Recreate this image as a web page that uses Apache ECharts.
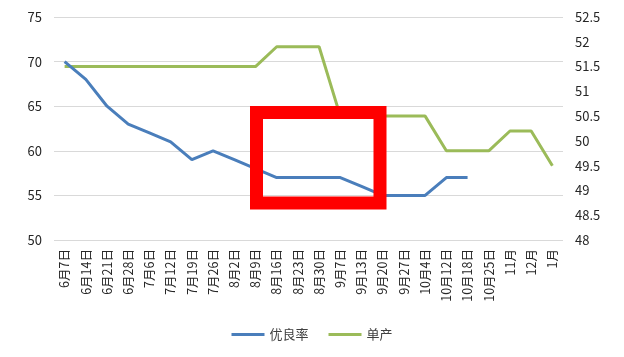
<!DOCTYPE html>
<html>
<head>
<meta charset="utf-8">
<script src="https://cdn.jsdelivr.net/npm/echarts@6/dist/echarts.min.js"></script>
<style>
html,body{margin:0;padding:0;background:#fff;}
#chart{width:624px;height:357px;}
</style>
</head>
<body>
<div id="chart"></div>
<script>
var categories = ['6月7日','6月14日','6月21日','6月28日','7月6日','7月12日','7月19日','7月26日','8月2日','8月9日','8月16日','8月23日','8月30日','9月7日','9月13日','9月20日','9月27日','10月4日','10月12日','10月18日','10月25日','11月','12月','1月'];
var youLiangLv = [70,68,65,63,62,61,59,60,59,58,57,57,57,57,56,55,55,55,57,57,null,null,null,null];
var danChan = [51.5,51.5,51.5,51.5,51.5,51.5,51.5,51.5,51.5,51.5,51.9,51.9,51.9,50.5,50.5,50.5,50.5,50.5,49.8,49.8,49.8,50.2,50.2,49.5];
var seriesNames = ['优良率','单产'];

var font = '"Noto Sans CJK SC", "Noto Sans", sans-serif';
var chart = echarts.init(document.getElementById('chart'), null, {renderer:'canvas'});
chart.setOption({
  animation:false,
  backgroundColor:'#ffffff',
  textStyle:{fontFamily:font},
  grid:{left:54, right:61, top:17, bottom:117, containLabel:false},
  legend:{
    bottom:11, left:'center',
    icon:'rect', itemWidth:33, itemHeight:3, itemGap:20,
    textStyle:{color:'#404040', fontSize:13, fontFamily:font},
    data:seriesNames
  },
  xAxis:{
    type:'category', data:categories, boundaryGap:true,
    axisLine:{show:false}, axisTick:{show:false},
    axisLabel:{rotate:90, interval:0, margin:9, color:'#262626', fontSize:12.5, fontFamily:font}
  },
  yAxis:[
    {type:'value', min:50, max:75, interval:5, position:'left',
     axisLine:{show:false}, axisTick:{show:false},
     axisLabel:{margin:12, color:'#262626', fontSize:13, fontFamily:font},
     splitLine:{show:true, lineStyle:{color:'#d9d9d9', width:1}}},
    {type:'value', min:48, max:52.5, interval:0.5, position:'right',
     axisLine:{show:false}, axisTick:{show:false},
     axisLabel:{margin:12, color:'#262626', fontSize:13, fontFamily:font},
     splitLine:{show:false}}
  ],
  series:[
    {name:seriesNames[0], type:'line', yAxisIndex:0, data:youLiangLv, showSymbol:false, symbol:'none',
     lineStyle:{color:'#4a7ebb', width:3}, itemStyle:{color:'#4a7ebb'}, z:3},
    {name:seriesNames[1], type:'line', yAxisIndex:1, data:danChan, showSymbol:false, symbol:'none',
     lineStyle:{color:'#9bbb59', width:3}, itemStyle:{color:'#9bbb59'}, z:2}
  ],
  graphic:[
    {type:'rect', z:100, shape:{x:256.5, y:112.5, width:123.5, height:90.5},
     style:{fill:'none', stroke:'#ff0000', lineWidth:13}}
  ]
});
</script>
</body>
</html>
